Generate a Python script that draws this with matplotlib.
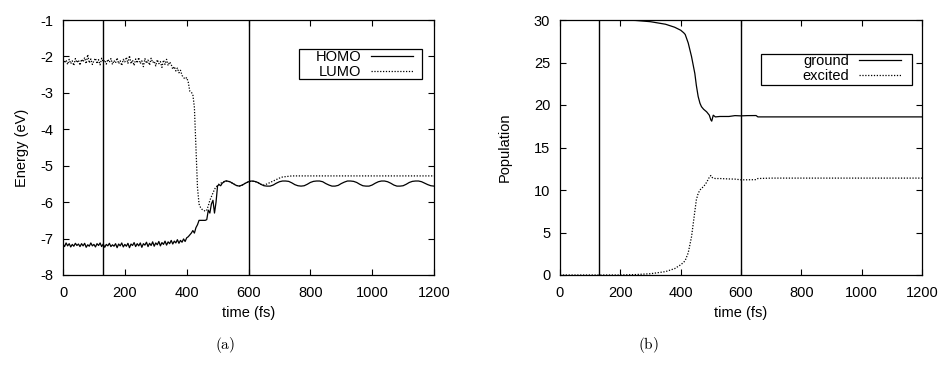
import numpy as np
import matplotlib
matplotlib.use("Agg")
import matplotlib.pyplot as plt
from matplotlib.patches import Rectangle

plt.rcParams['font.family'] = ['Liberation Sans', 'DejaVu Sans']
plt.rcParams['mathtext.fontset'] = 'cm'
plt.rcParams['axes.unicode_minus'] = False

# ---------------- Data: panel (a) ----------------
t_fine = list(range(0, 530, 5))          # 0..525 every 5 fs
t_coarse = list(range(530, 1201, 10))    # 530..1200 every 10 fs

homo_fine = [
    -7.15, -7.22, -7.12, -7.20, -7.14, -7.23, -7.16, -7.21, -7.13, -7.19,
    -7.15, -7.22, -7.14, -7.20, -7.13, -7.24, -7.17, -7.21, -7.12, -7.20,
    -7.16, -7.23, -7.14, -7.19, -7.12, -7.22, -7.15, -7.24, -7.16, -7.20,
    -7.13, -7.22, -7.17, -7.21, -7.14, -7.25, -7.15, -7.20, -7.12, -7.23,
    -7.16, -7.21, -7.13, -7.25, -7.15, -7.19, -7.11, -7.22, -7.14, -7.20,
    -7.12, -7.24, -7.14, -7.18, -7.10, -7.22, -7.13, -7.19, -7.09, -7.21,
    -7.12, -7.17, -7.08, -7.20, -7.11, -7.16, -7.07, -7.18, -7.09, -7.14,
    -7.05, -7.15, -7.07, -7.12, -7.03, -7.13, -7.05, -7.10, -7.01, -7.08,
    -6.98, -6.95, -6.90, -6.85, -6.78, -6.85, -6.70, -6.62, -6.50, -6.50,
    -6.50, -6.50, -6.50, -6.48, -6.22, -6.30, -6.05, -5.95, -6.30, -6.00,
    -5.55, -5.52, -5.55, -5.48, -5.45, -5.42,
]
homo_coarse = [
    -5.42, -5.44, -5.49, -5.54, -5.56, -5.53, -5.48, -5.44, -5.42, -5.43,
    -5.46, -5.51, -5.55, -5.56, -5.56, -5.53, -5.48, -5.44, -5.42, -5.42,
    -5.43, -5.47, -5.52, -5.55, -5.56, -5.55, -5.51, -5.46, -5.43, -5.42,
    -5.42, -5.44, -5.49, -5.53, -5.56, -5.56, -5.54, -5.49, -5.45, -5.42,
    -5.42, -5.43, -5.46, -5.51, -5.55, -5.56, -5.56, -5.53, -5.48, -5.44,
    -5.42, -5.42, -5.44, -5.48, -5.53, -5.56, -5.56, -5.55, -5.51, -5.46,
    -5.43, -5.42, -5.42, -5.44, -5.48, -5.52, -5.55, -5.56,
]
lumo_fine = [
    -2.05, -2.18, -2.10, -2.22, -2.08, -2.20, -2.12, -2.25, -2.06, -2.17,
    -2.10, -2.24, -2.08, -2.15, -2.03, -2.20, -1.95, -2.18, -2.07, -2.22,
    -2.12, -2.05, -2.20, -2.09, -2.23, -2.05, -2.15, -2.10, -2.21, -2.08,
    -2.16, -2.06, -2.22, -2.11, -2.18, -2.04, -2.20, -2.12, -2.25, -2.08,
    -2.15, -2.02, -2.19, -1.98, -2.20, -2.10, -2.25, -2.07, -2.18, -2.03,
    -2.20, -2.12, -2.28, -2.06, -2.19, -2.10, -2.24, -2.05, -2.17, -2.13,
    -2.26, -2.09, -2.20, -2.14, -2.30, -2.10, -2.22, -2.08, -2.25, -2.15,
    -2.22, -2.35, -2.28, -2.40, -2.32, -2.45, -2.38, -2.52, -2.58, -2.62,
    -2.58, -2.70, -2.95, -2.98, -3.05, -3.40, -4.50, -5.60, -6.05, -6.15,
    -6.20, -6.22, -6.25, -6.22, -6.10, -5.95, -5.85, -5.75, -5.65, -5.58,
    -5.55, -5.50, -5.48, -5.46, -5.44, -5.42,
]
lumo_coarse = [
    -5.42, -5.44, -5.49, -5.54, -5.56, -5.53, -5.48, -5.44, -5.42, -5.43,
    -5.46, -5.51, -5.53, -5.50, -5.46, -5.42, -5.38, -5.34, -5.31, -5.30,
    -5.29, -5.28, -5.28, -5.28, -5.28, -5.28, -5.28, -5.28, -5.28, -5.28,
    -5.28, -5.28, -5.28, -5.28, -5.28, -5.28, -5.28, -5.28, -5.28, -5.28,
    -5.28, -5.28, -5.28, -5.28, -5.28, -5.28, -5.28, -5.28, -5.28, -5.28,
    -5.28, -5.28, -5.28, -5.28, -5.28, -5.28, -5.28, -5.28, -5.28, -5.28,
    -5.28, -5.28, -5.28, -5.28, -5.28, -5.28, -5.28, -5.28,
]

# ---------------- Data: panel (b) ----------------
t_pop = [0, 100, 200, 250, 300, 350, 380, 400, 410, 415, 425, 436, 447, 452,
         458, 464, 469, 476, 486, 495, 500, 503, 508, 515, 530, 560, 580, 600,
         620, 650, 656, 700, 800, 900, 1000, 1100, 1200]
ground = [30.0, 30.0, 30.0, 29.95, 29.8, 29.5, 29.15, 28.8, 28.5, 28.3, 27.3,
          25.7, 23.7, 22.3, 21.0, 20.2, 19.8, 19.5, 19.2, 18.8, 18.25, 18.1,
          18.8, 18.6, 18.65, 18.65, 18.75, 18.72, 18.75, 18.76, 18.6, 18.6,
          18.6, 18.6, 18.6, 18.6, 18.6]
excited = [0.0, 0.0, 0.0, 0.05, 0.15, 0.4, 0.75, 1.2, 1.5, 1.7, 2.6,
           4.5, 7.5, 8.85, 9.6, 10.0, 10.2, 10.4, 10.9, 11.5, 11.7, 11.5,
           11.4, 11.35, 11.35, 11.3, 11.28, 11.2, 11.2, 11.22, 11.35, 11.4,
           11.4, 11.4, 11.4, 11.4, 11.4]

vlines = [130, 600]
x_ticks = [0, 200, 400, 600, 800, 1000, 1200]
e_ticks = [-8, -7, -6, -5, -4, -3, -2, -1]
p_ticks = [0, 5, 10, 15, 20, 25, 30]

W, H = 942, 369
fig = plt.figure(figsize=(W / 100, H / 100), dpi=100)

def axrect(x0, y0, x1, y1):
    return [x0 / W, 1 - y1 / H, (x1 - x0) / W, (y1 - y0) / H]

ax1 = fig.add_axes(axrect(63, 20, 434, 275))
ax2 = fig.add_axes(axrect(560, 20, 922, 275))

dotted = (0, (1.0, 1.3))
fs = 10.5

def style(ax):
    ax.tick_params(direction='in', length=4, width=0.8, top=True, right=True,
                   labelsize=fs, colors='black')
    ax.tick_params(axis='y', pad=7)
    ax.tick_params(axis='x', pad=8)
    for s in ax.spines.values():
        s.set_linewidth(0.9)
    for v in vlines:
        ax.axvline(v, color='black', lw=1.0)

def framed_legend(ax, x0, y0, x1, y1, hx, ty):
    # box in pixel coords of figure -> axes fraction
    bb = ax.get_position()
    ax_x0, ax_w = bb.x0 * W, bb.width * W
    ax_ytop, ax_h = (1 - bb.y1) * H, bb.height * H
    fx = lambda px: (px - ax_x0) / ax_w
    fy = lambda py: 1 - (py - ax_ytop) / ax_h
    ax.add_patch(Rectangle((fx(x0), fy(y1)), fx(x1) - fx(x0), fy(y0) - fy(y1),
                           transform=ax.transAxes, facecolor='white',
                           edgecolor='black', lw=0.9, zorder=5))
    leg = ax.legend(loc='upper right', bbox_to_anchor=(fx(hx), fy(ty)),
                    borderaxespad=0, borderpad=0, markerfirst=False,
                    frameon=False, fontsize=fs, handlelength=2.85,
                    handletextpad=0.7, labelspacing=0.05)
    leg.set_zorder(6)
    return leg

t_a = t_fine + t_coarse
ax1.plot(t_a, homo_fine + homo_coarse, color='black', lw=0.9, label='HOMO')
ax1.plot(t_a, lumo_fine + lumo_coarse, color='black', lw=0.9, ls=dotted, label='LUMO')
ax1.set_xlim(0, 1200)
ax1.set_ylim(-8, -1)
ax1.set_xticks(x_ticks)
ax1.set_yticks(e_ticks)
ax1.set_xlabel('time (fs)', fontsize=fs, labelpad=4)
ax1.set_ylabel('Energy (eV)', fontsize=fs, labelpad=8)
style(ax1)
framed_legend(ax1, 299, 49, 422, 79, 413, 50)

ax2.plot(t_pop, ground, color='black', lw=0.9, label='ground')
ax2.plot(t_pop, excited, color='black', lw=0.9, ls=dotted, label='excited')
ax2.set_xlim(0, 1200)
ax2.set_ylim(0, 30)
ax2.set_xticks(x_ticks)
ax2.set_yticks(p_ticks)
ax2.set_xlabel('time (fs)', fontsize=fs, labelpad=4)
ax2.set_ylabel('Population', fontsize=fs, labelpad=16)
style(ax2)
framed_legend(ax2, 761, 54, 912, 85, 901, 54)

fig.text(225 / W, 1 - 345 / H, r'$\mathrm{(a)}$', ha='center', va='center', fontsize=11)
fig.text(648 / W, 1 - 345 / H, r'$\mathrm{(b)}$', ha='center', va='center', fontsize=11)

fig.savefig('out.png', dpi=100)
